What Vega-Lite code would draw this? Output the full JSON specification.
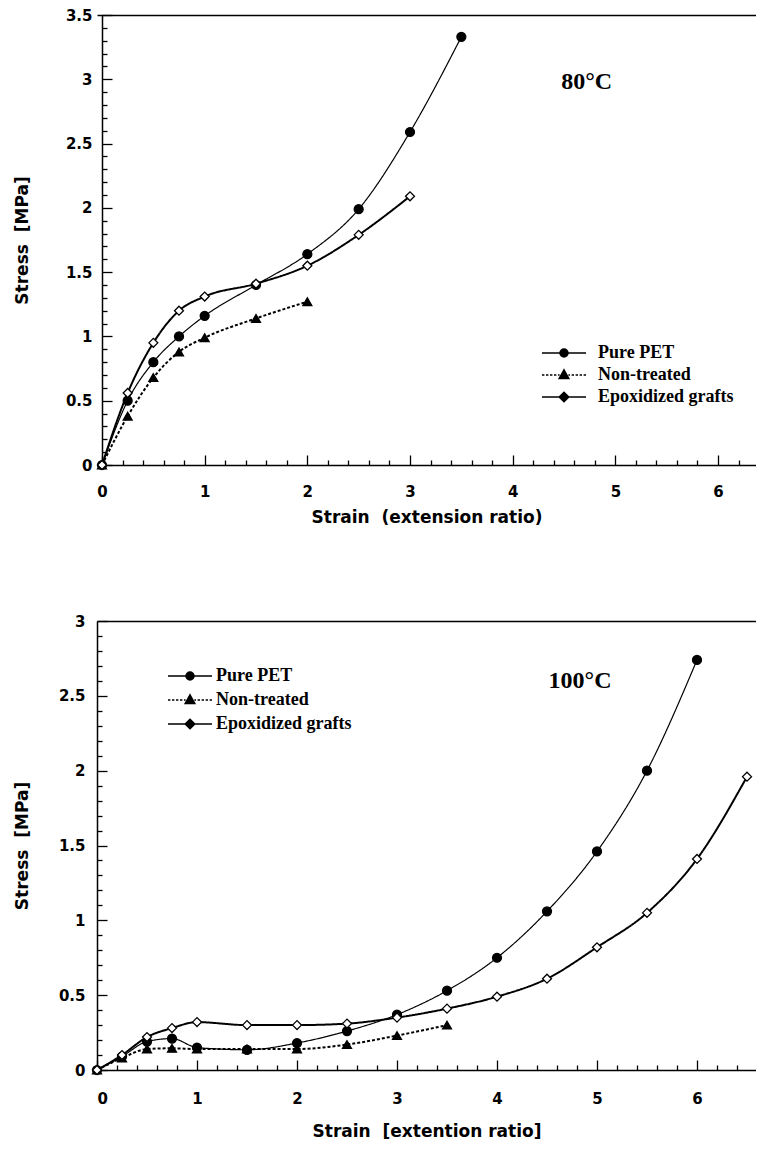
{
  "$schema": "https://vega.github.io/schema/vega-lite/v6.json",
  "padding": {"left": 13, "top": 8, "right": 0, "bottom": 0},
  "spacing": 89,
  "config": {
    "view": {"stroke": null},
    "axis": {
      "labelFont": "DejaVu Sans", "labelFontWeight": "bold", "labelFontSize": 15, "labelColor": "black",
      "titleFont": "DejaVu Sans", "titleFontWeight": "bold", "titleFontSize": 17, "titleColor": "black",
      "domainColor": "black", "domainWidth": 1.5, "tickColor": "black", "tickWidth": 1.3, "grid": false
    },
    "legend": {
      "labelFont": "Liberation Serif", "labelFontWeight": "bold", "labelFontSize": 18, "labelColor": "black",
      "padding": 0, "symbolSize": 64, "symbolStrokeWidth": 1.5, "symbolFillColor": "black", "symbolStrokeColor": "black", "symbolOpacity": 1
    },
    "text": {"font": "Liberation Serif", "fontWeight": "bold", "fontSize": 24, "color": "black"}
  },
  "datasets": {
    "top": [
      {"series": "Pure PET", "strain": 0, "stress": 0},
      {"series": "Pure PET", "strain": 0.25, "stress": 0.5},
      {"series": "Pure PET", "strain": 0.5, "stress": 0.8},
      {"series": "Pure PET", "strain": 0.75, "stress": 1.0},
      {"series": "Pure PET", "strain": 1, "stress": 1.16},
      {"series": "Pure PET", "strain": 1.5, "stress": 1.4},
      {"series": "Pure PET", "strain": 2, "stress": 1.64},
      {"series": "Pure PET", "strain": 2.5, "stress": 1.99},
      {"series": "Pure PET", "strain": 3, "stress": 2.59},
      {"series": "Pure PET", "strain": 3.5, "stress": 3.33},
      {"series": "Non-treated", "strain": 0, "stress": 0},
      {"series": "Non-treated", "strain": 0.25, "stress": 0.38},
      {"series": "Non-treated", "strain": 0.5, "stress": 0.68},
      {"series": "Non-treated", "strain": 0.75, "stress": 0.88},
      {"series": "Non-treated", "strain": 1, "stress": 0.99},
      {"series": "Non-treated", "strain": 1.5, "stress": 1.14},
      {"series": "Non-treated", "strain": 2, "stress": 1.27},
      {"series": "Epoxidized grafts", "strain": 0, "stress": 0},
      {"series": "Epoxidized grafts", "strain": 0.25, "stress": 0.56},
      {"series": "Epoxidized grafts", "strain": 0.5, "stress": 0.95},
      {"series": "Epoxidized grafts", "strain": 0.75, "stress": 1.2},
      {"series": "Epoxidized grafts", "strain": 1, "stress": 1.31},
      {"series": "Epoxidized grafts", "strain": 1.5, "stress": 1.41},
      {"series": "Epoxidized grafts", "strain": 2, "stress": 1.55},
      {"series": "Epoxidized grafts", "strain": 2.5, "stress": 1.79},
      {"series": "Epoxidized grafts", "strain": 3, "stress": 2.09}
    ],
    "bottom": [
      {"series": "Pure PET", "strain": 0, "stress": 0},
      {"series": "Pure PET", "strain": 0.25, "stress": 0.09},
      {"series": "Pure PET", "strain": 0.5, "stress": 0.19},
      {"series": "Pure PET", "strain": 0.75, "stress": 0.21},
      {"series": "Pure PET", "strain": 1, "stress": 0.15},
      {"series": "Pure PET", "strain": 1.5, "stress": 0.135},
      {"series": "Pure PET", "strain": 2, "stress": 0.18},
      {"series": "Pure PET", "strain": 2.5, "stress": 0.26},
      {"series": "Pure PET", "strain": 3, "stress": 0.37},
      {"series": "Pure PET", "strain": 3.5, "stress": 0.53},
      {"series": "Pure PET", "strain": 4, "stress": 0.75},
      {"series": "Pure PET", "strain": 4.5, "stress": 1.06},
      {"series": "Pure PET", "strain": 5, "stress": 1.46},
      {"series": "Pure PET", "strain": 5.5, "stress": 2.0},
      {"series": "Pure PET", "strain": 6, "stress": 2.74},
      {"series": "Non-treated", "strain": 0, "stress": 0},
      {"series": "Non-treated", "strain": 0.25, "stress": 0.08},
      {"series": "Non-treated", "strain": 0.5, "stress": 0.14},
      {"series": "Non-treated", "strain": 0.75, "stress": 0.145},
      {"series": "Non-treated", "strain": 1, "stress": 0.14},
      {"series": "Non-treated", "strain": 1.5, "stress": 0.14},
      {"series": "Non-treated", "strain": 2, "stress": 0.14},
      {"series": "Non-treated", "strain": 2.5, "stress": 0.17},
      {"series": "Non-treated", "strain": 3, "stress": 0.23},
      {"series": "Non-treated", "strain": 3.5, "stress": 0.3},
      {"series": "Epoxidized grafts", "strain": 0, "stress": 0},
      {"series": "Epoxidized grafts", "strain": 0.25, "stress": 0.1},
      {"series": "Epoxidized grafts", "strain": 0.5, "stress": 0.22},
      {"series": "Epoxidized grafts", "strain": 0.75, "stress": 0.28},
      {"series": "Epoxidized grafts", "strain": 1, "stress": 0.32},
      {"series": "Epoxidized grafts", "strain": 1.5, "stress": 0.3},
      {"series": "Epoxidized grafts", "strain": 2, "stress": 0.3},
      {"series": "Epoxidized grafts", "strain": 2.5, "stress": 0.31},
      {"series": "Epoxidized grafts", "strain": 3, "stress": 0.35},
      {"series": "Epoxidized grafts", "strain": 3.5, "stress": 0.41},
      {"series": "Epoxidized grafts", "strain": 4, "stress": 0.49},
      {"series": "Epoxidized grafts", "strain": 4.5, "stress": 0.61},
      {"series": "Epoxidized grafts", "strain": 5, "stress": 0.82},
      {"series": "Epoxidized grafts", "strain": 5.5, "stress": 1.05},
      {"series": "Epoxidized grafts", "strain": 6, "stress": 1.41},
      {"series": "Epoxidized grafts", "strain": 6.5, "stress": 1.96}
    ],
    "toplabel": [{"strain": 4.72, "stress": 2.98, "t": "80°C"}],
    "bottomlabel": [{"strain": 4.83, "stress": 2.6, "t": "100°C"}]
  },
  "vconcat": [
    {
      "width": 659,
      "height": 450,
      "layer": [
        {
          "data": {"name": "top"},
          "mark": {"type": "line", "interpolate": "monotone", "color": "black"},
          "encoding": {
            "x": {"field": "strain", "type": "quantitative", "scale": {"domain": [-0.0487, 6.37], "nice": false, "zero": false},
              "axis": {"orient": "bottom", "values": [0, 1, 2, 3, 4, 5, 6], "tickSize": -10, "labelPadding": 29, "format": "~g", "title": "Strain\u00a0 (extension ratio)", "titlePadding": 10}},
            "y": {"field": "stress", "type": "quantitative", "scale": {"domain": [0, 3.5], "nice": false},
              "axis": {"orient": "left", "offset": -5, "values": [0, 0.5, 1, 1.5, 2, 2.5, 3, 3.5], "tickSize": -10, "labelPadding": 20, "format": "~g", "title": "Stress\u00a0 [MPa]", "titlePadding": 34}},
            "detail": {"field": "series"},
            "strokeDash": {"condition": {"test": "datum.series === 'Non-treated'", "value": [3, 2]}, "value": [1, 0]},
            "strokeWidth": {"condition": {"test": "datum.series === 'Pure PET'", "value": 1.2}, "value": 2}
          }
        },
        {
          "data": {"name": "top"},
          "mark": {"type": "point", "size": 80, "filled": true, "opacity": 1, "strokeWidth": 1.3, "stroke": "black"},
          "encoding": {
            "x": {"field": "strain", "type": "quantitative",
              "axis": {"orient": "bottom", "values": [0.2,0.4,0.6,0.8,1.2,1.4,1.6,1.8,2.2,2.4,2.6,2.8,3.2,3.4,3.6,3.8,4.2,4.4,4.6,4.8,5.2,5.4,5.6,5.8,6.2], "tickSize": -5, "labels": false, "domain": false, "title": null}},
            "y": {"field": "stress", "type": "quantitative",
              "axis": {"orient": "left", "offset": -5, "values": [0.1,0.2,0.3,0.4,0.6,0.7,0.8,0.9,1.1,1.2,1.3,1.4,1.6,1.7,1.8,1.9,2.1,2.2,2.3,2.4,2.6,2.7,2.8,2.9,3.1,3.2,3.3,3.4], "tickSize": -5, "labels": false, "domain": false, "title": null}},
            "shape": {"field": "series", "type": "nominal", "scale": {"domain": ["Pure PET", "Non-treated", "Epoxidized grafts"], "range": ["circle", "triangle-up", "diamond"]}, "legend": null},
            "fill": {"condition": {"test": "datum.series === 'Epoxidized grafts'", "value": "white"}, "value": "black"}
          }
        },
        {
          "data": {"name": "top"},
          "mark": {"type": "point", "size": 0, "filled": false, "opacity": 1, "strokeWidth": 1.5, "color": "black"},
          "encoding": {
            "x": {"field": "strain", "type": "quantitative", "axis": null},
            "y": {"field": "stress", "type": "quantitative", "axis": null},
            "shape": {"field": "series", "type": "nominal",
              "scale": {"domain": ["Pure PET", "Non-treated", "Epoxidized grafts"], "range": [
                "M-5.5,0H5.5M-1,0A1,1,0,1,0,1,0A1,1,0,1,0,-1,0M-0.65,0A0.65,0.65,0,1,0,0.65,0A0.65,0.65,0,1,0,-0.65,0M-0.3,0A0.3,0.3,0,1,0,0.3,0A0.3,0.3,0,1,0,-0.3,0",
                "M-5.5,0H-4.9M-4.5,0H-3.9M-3.5,0H-2.9M-2.5,0H-1.9M-1.5,0H-1.1M1.1,0H1.5M1.9,0H2.5M2.9,0H3.5M3.9,0H4.5M4.9,0H5.5M0,-1.3L1.2,0.9L-1.2,0.9ZM0,-0.75L0.7,0.55L-0.7,0.55ZM0,-0.25L0.25,0.25L-0.25,0.25Z",
                "M-5.5,0H5.5M0,-1.2L1.2,0L0,1.2L-1.2,0ZM0,-0.7L0.7,0L0,0.7L-0.7,0ZM0,-0.25L0.25,0L0,0.25L-0.25,0Z"]},
              "legend": {"orient": "none", "legendX": 458, "legendY": 329, "labelOffset": 25, "rowPadding": 4, "title": null, "symbolFillColor": "black"}}
          }
        },
        {
          "data": {"name": "toplabel"},
          "mark": {"type": "text"},
          "encoding": {
            "x": {"field": "strain", "type": "quantitative",
              "axis": {"orient": "top", "ticks": false, "labels": false, "domain": true, "title": null}},
            "y": {"field": "stress", "type": "quantitative", "axis": null},
            "text": {"field": "t"}
          }
        }
      ],
      "resolve": {"axis": {"x": "independent", "y": "independent"}, "scale": {"shape": "independent"}}
    },
    {
      "width": 659,
      "height": 449,
      "layer": [
        {
          "data": {"name": "bottom"},
          "mark": {"type": "line", "interpolate": "monotone", "color": "black"},
          "encoding": {
            "x": {"field": "strain", "type": "quantitative", "scale": {"domain": [0, 6.59], "nice": false},
              "axis": {"orient": "bottom", "values": [0, 1, 2, 3, 4, 5, 6], "tickSize": -10, "labelPadding": 31, "format": "~g", "title": "Strain\u00a0 [extention ratio]", "titlePadding": 17}},
            "y": {"field": "stress", "type": "quantitative", "scale": {"domain": [0, 3], "nice": false},
              "axis": {"orient": "left", "values": [0, 0.5, 1, 1.5, 2, 2.5, 3], "tickSize": -10, "labelPadding": 22, "format": "~g", "title": "Stress\u00a0 [MPa]", "titlePadding": 27}},
            "detail": {"field": "series"},
            "strokeDash": {"condition": {"test": "datum.series === 'Non-treated'", "value": [3, 2]}, "value": [1, 0]},
            "strokeWidth": {"condition": {"test": "datum.series === 'Pure PET'", "value": 1.2}, "value": 2}
          }
        },
        {
          "data": {"name": "bottom"},
          "mark": {"type": "point", "size": 80, "filled": true, "opacity": 1, "strokeWidth": 1.3, "stroke": "black"},
          "encoding": {
            "x": {"field": "strain", "type": "quantitative",
              "axis": {"orient": "bottom", "values": [0.2,0.4,0.6,0.8,1.2,1.4,1.6,1.8,2.2,2.4,2.6,2.8,3.2,3.4,3.6,3.8,4.2,4.4,4.6,4.8,5.2,5.4,5.6,5.8,6.2,6.4], "tickSize": -5, "labels": false, "domain": false, "title": null}},
            "y": {"field": "stress", "type": "quantitative",
              "axis": {"orient": "left", "values": [0.1,0.2,0.3,0.4,0.6,0.7,0.8,0.9,1.1,1.2,1.3,1.4,1.6,1.7,1.8,1.9,2.1,2.2,2.3,2.4,2.6,2.7,2.8,2.9], "tickSize": -5, "labels": false, "domain": false, "title": null}},
            "shape": {"field": "series", "type": "nominal", "scale": {"domain": ["Pure PET", "Non-treated", "Epoxidized grafts"], "range": ["circle", "triangle-up", "diamond"]}, "legend": null},
            "fill": {"condition": {"test": "datum.series === 'Epoxidized grafts'", "value": "white"}, "value": "black"}
          }
        },
        {
          "data": {"name": "bottom"},
          "mark": {"type": "point", "size": 0, "filled": false, "opacity": 1, "strokeWidth": 1.5, "color": "black"},
          "encoding": {
            "x": {"field": "strain", "type": "quantitative", "axis": null},
            "y": {"field": "stress", "type": "quantitative", "axis": null},
            "shape": {"field": "series", "type": "nominal",
              "scale": {"domain": ["Pure PET", "Non-treated", "Epoxidized grafts"], "range": [
                "M-5.5,0H5.5M-1,0A1,1,0,1,0,1,0A1,1,0,1,0,-1,0M-0.65,0A0.65,0.65,0,1,0,0.65,0A0.65,0.65,0,1,0,-0.65,0M-0.3,0A0.3,0.3,0,1,0,0.3,0A0.3,0.3,0,1,0,-0.3,0",
                "M-5.5,0H-4.9M-4.5,0H-3.9M-3.5,0H-2.9M-2.5,0H-1.9M-1.5,0H-1.1M1.1,0H1.5M1.9,0H2.5M2.9,0H3.5M3.9,0H4.5M4.9,0H5.5M0,-1.3L1.2,0.9L-1.2,0.9ZM0,-0.75L0.7,0.55L-0.7,0.55ZM0,-0.25L0.25,0.25L-0.25,0.25Z",
                "M-5.5,0H5.5M0,-1.2L1.2,0L0,1.2L-1.2,0ZM0,-0.7L0.7,0L0,0.7L-0.7,0ZM0,-0.25L0.25,0L0,0.25L-0.25,0Z"]},
              "legend": {"orient": "none", "legendX": 84, "legendY": 46, "labelOffset": 17, "rowPadding": 6, "title": null, "symbolFillColor": "black"}}
          }
        },
        {
          "data": {"name": "bottomlabel"},
          "mark": {"type": "text"},
          "encoding": {
            "x": {"field": "strain", "type": "quantitative",
              "axis": {"orient": "top", "ticks": false, "labels": false, "domain": true, "title": null}},
            "y": {"field": "stress", "type": "quantitative", "axis": null},
            "text": {"field": "t"}
          }
        }
      ],
      "resolve": {"axis": {"x": "independent", "y": "independent"}, "scale": {"shape": "independent"}}
    }
  ],
  "resolve": {"scale": {"x": "independent", "y": "independent", "shape": "independent"}}
}
